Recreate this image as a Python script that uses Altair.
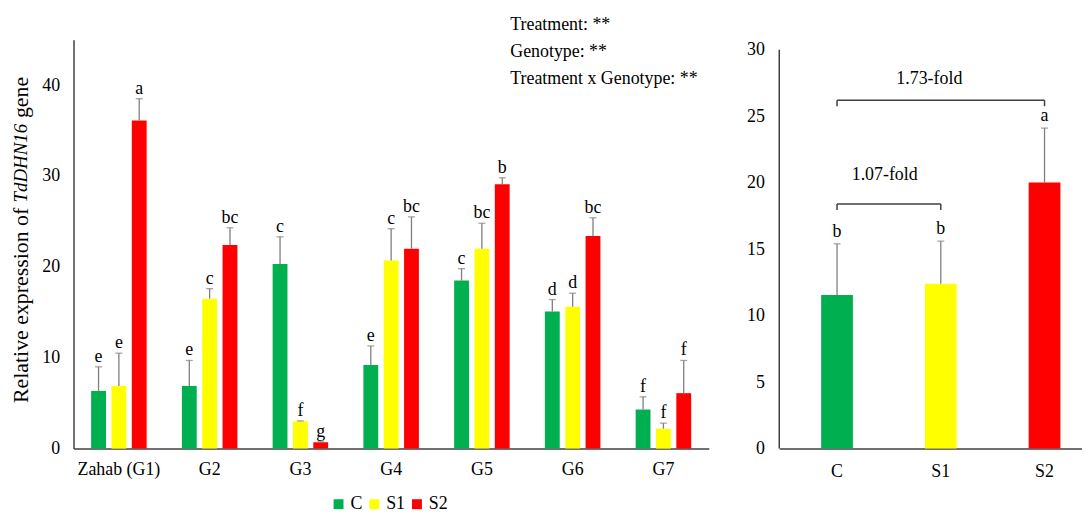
import altair as alt
import pandas as pd

# ---------------- data ----------------
genotypes = ["Zahab (G1)", "G2", "G3", "G4", "G5", "G6", "G7"]
treatments = ["C", "S1", "S2"]
colors = ["#00B050", "#FFFF00", "#FF0000"]

c_vals = [6.35, 6.9, 20.3, 9.2, 18.5, 15.1, 4.3]
c_se = [2.65, 2.8, 3.0, 2.1, 1.3, 1.3, 1.4]
c_letters = ["e", "e", "c", "e", "c", "d", "f"]

s1_vals = [6.9, 16.5, 3.0, 20.7, 22.0, 15.6, 2.2]
s1_se = [3.6, 1.1, 0.05, 3.5, 2.8, 1.5, 0.6]
s1_letters = ["e", "c", "f", "c", "bc", "d", "f"]

s2_vals = [36.1, 22.4, 0.7, 22.0, 29.1, 23.4, 6.1]
s2_se = [2.4, 1.9, 0.05, 3.5, 0.7, 2.0, 3.6]
s2_letters = ["a", "bc", "g", "bc", "b", "bc", "f"]

mean_vals = [11.55, 12.4, 20.0]
mean_se = [3.85, 3.2, 4.1]
mean_letters = ["b", "b", "a"]

bracket_from = ["C", "C"]
bracket_to = ["S1", "S2"]
bracket_y = [18.4, 26.2]
bracket_label = ["1.07-fold", "1.73-fold"]

anova_lines = ["Treatment: **", "Genotype: **", "Treatment x Genotype: **"]

FONT = "Liberation Serif"
GRAY = "#7f7f7f"
AXC = "#404040"

rows = []
for t, vals, ses, lets in [("C", c_vals, c_se, c_letters),
                           ("S1", s1_vals, s1_se, s1_letters),
                           ("S2", s2_vals, s2_se, s2_letters)]:
    for g, v, s, l in zip(genotypes, vals, ses, lets):
        rows.append({"Genotype": g, "Treatment": t, "value": v, "upper": v + s, "letter": l})
df = pd.DataFrame(rows)

color = alt.Color("Treatment:N", sort=treatments,
                  scale=alt.Scale(domain=treatments, range=colors),
                  legend=alt.Legend(title=None, orient="none", direction="horizontal",
                                    legendX=258, legendY=459, symbolType="square",
                                    symbolSize=100, symbolStrokeWidth=0,
                                    labelFont=FONT, labelFontSize=18, labelColor="#000",
                                    labelOffset=3, columnPadding=2))

# ---------------- left panel ----------------
xl = alt.X("Genotype:N", sort=genotypes,
           scale=alt.Scale(paddingInner=0.33, paddingOuter=0.165),
           axis=alt.Axis(title=None, labelAngle=0, labelPadding=12, domainColor=AXC, domainWidth=1.5))
xo = alt.XOffset("Treatment:N", sort=treatments,
                 scale=alt.Scale(domain=treatments, paddingInner=0.27, paddingOuter=0.13))
yl = alt.Y("value:Q", scale=alt.Scale(domain=[0, 45], nice=False),
           axis=alt.Axis(title=None, values=[0, 10, 20, 30, 40], labelPadding=14,
                         domainColor=AXC, domainWidth=1.5))

base = alt.Chart(df)
bars = base.mark_bar().encode(x=xl, xOffset=xo, y=yl, color=color)
err = base.mark_rule(color=GRAY, strokeWidth=1.3).encode(x=xl, xOffset=xo, y="value:Q", y2="upper:Q")
cap = base.mark_tick(color=GRAY, orient="horizontal", size=7, thickness=1.3).encode(
    x=xl, xOffset=xo, y="upper:Q")
lets = base.mark_text(font=FONT, fontSize=18, baseline="alphabetic", dy=-5, color="#000").encode(
    x=xl, xOffset=xo, y="upper:Q", text="letter:N")

one = pd.DataFrame({"k": [0]})
t1 = alt.Chart(one).mark_text(font=FONT, fontSize=22, angle=270, align="left", baseline="middle",
                              color="#000").encode(
    x=alt.value(-53), y=alt.value(366), text=alt.value("Relative expression of"))
t2 = alt.Chart(one).mark_text(font=FONT, fontSize=19, angle=270, align="left", baseline="middle",
                              fontStyle="italic", color="#000").encode(
    x=alt.value(-53), y=alt.value(164), text=alt.value("TdDHN16"))
t3 = alt.Chart(one).mark_text(font=FONT, fontSize=22, angle=270, align="left", baseline="middle",
                              color="#000").encode(
    x=alt.value(-53), y=alt.value(79), text=alt.value("gene"))
anova = alt.Chart(one).mark_text(font=FONT, fontSize=18, align="left", baseline="middle",
                                 lineHeight=27.5, color="#000").encode(
    x=alt.value(440), y=alt.value(-15), text=alt.value(anova_lines))

left = alt.layer(bars, err, cap, lets, t1, t2, t3, anova).properties(width=640, height=412)

# ---------------- right panel ----------------
rdf = pd.DataFrame({"Treatment": treatments, "value": mean_vals,
                    "upper": [v + s for v, s in zip(mean_vals, mean_se)], "letter": mean_letters})
bdf = pd.DataFrame({"from": bracket_from, "to": bracket_to, "y": bracket_y, "label": bracket_label})
bdf["ylow"] = bdf["y"] - 0.45

xr = alt.X("Treatment:N", sort=treatments,
           scale=alt.Scale(domain=treatments, paddingInner=0.694, paddingOuter=0.306, align=0.66),
           axis=alt.Axis(title=None, labelAngle=0, labelPadding=14, domainColor=AXC, domainWidth=1.5))
yr = alt.Y("value:Q", scale=alt.Scale(domain=[0, 30.75], nice=False),
           axis=alt.Axis(title=None, values=[0, 5, 10, 15, 20, 25, 30], labelPadding=15, domain=False))

rbase = alt.Chart(rdf)
rbars = rbase.mark_bar().encode(x=xr, y=yr, color=color)
rerr = rbase.mark_rule(color=GRAY, strokeWidth=1.3).encode(x=xr, y="value:Q", y2="upper:Q")
rcap = rbase.mark_tick(color=GRAY, orient="horizontal", size=7, thickness=1.3).encode(x=xr, y="upper:Q")
rlets = rbase.mark_text(font=FONT, fontSize=18, baseline="alphabetic", dy=-7, color="#000").encode(
    x=xr, y="upper:Q", text="letter:N")
yaxis_line = alt.Chart(one).mark_rule(color=AXC, strokeWidth=1.5).encode(
    x=alt.value(0), y=alt.datum(0), y2=alt.datum(30))

bb = alt.Chart(bdf)
bh = bb.mark_rule(color=AXC, strokeWidth=1.5).encode(
    x=alt.X("from:N", sort=treatments, scale=alt.Scale(domain=treatments)), x2="to:N", y="y:Q")
bl = bb.mark_rule(color=AXC, strokeWidth=1.5).encode(x=alt.X("from:N"), y="y:Q", y2="ylow:Q")
br = bb.mark_rule(color=AXC, strokeWidth=1.5).encode(x=alt.X("to:N"), y="y:Q", y2="ylow:Q")
btext1 = alt.Chart(bdf.iloc[[0]]).mark_text(font=FONT, fontSize=18, baseline="middle", dx=48, dy=-29,
                                             color="#000").encode(
    x=alt.X("from:N"), y=alt.Y("y:Q"), text="label:N")
btext2 = alt.Chart(bdf.iloc[[1]]).mark_text(font=FONT, fontSize=18, baseline="middle", dx=93, dy=-21,
                                             color="#000").encode(
    x=alt.X("from:N"), y=alt.Y("y:Q"), text="label:N")

right = alt.layer(rbars, rerr, rcap, rlets, yaxis_line, bh, bl, br, btext1, btext2).properties(
    width=305, height=412)

chart = alt.hconcat(left, right, spacing=38).configure(
    padding={"left": 2, "top": 6, "right": 0, "bottom": 0}
).configure_view(stroke=None).configure_axis(
    labelFont=FONT, labelFontSize=18, labelColor="#000", grid=False, ticks=False
)

chart.save("out.html", embed_options={"renderer": "svg", "actions": False})
